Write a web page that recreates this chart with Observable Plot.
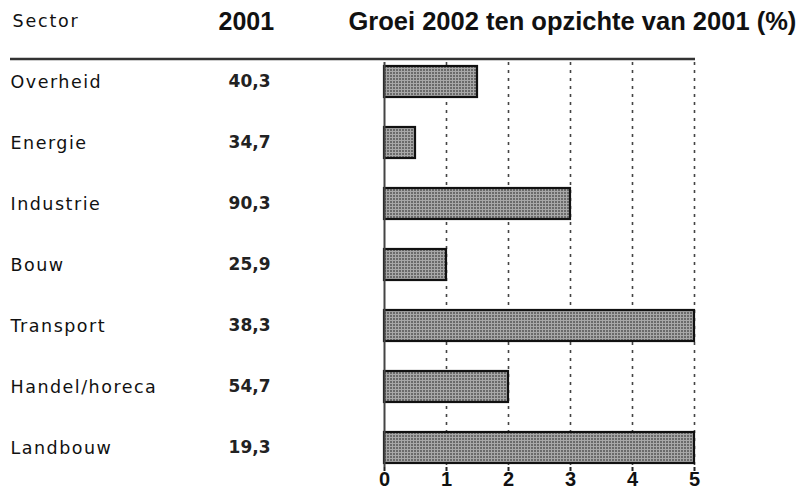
<!DOCTYPE html>
<html>
<head>
<meta charset="utf-8">
<script src="https://cdn.jsdelivr.net/npm/d3@7"></script>
<script src="https://cdn.jsdelivr.net/npm/@observablehq/plot@0.6"></script>
<style>
  html, body { margin: 0; padding: 0; background: #fff; }
  #chart svg { display: block; }
</style>
</head>
<body>
<div id="chart"></div>
<script>
const sectors = ["Overheid", "Energie", "Industrie", "Bouw", "Transport", "Handel/horeca", "Landbouw"];
const values2001 = [40.3, 34.7, 90.3, 25.9, 38.3, 54.7, 19.3];
const groei2002 = [1.5, 0.5, 3, 1, 5, 2, 5];
const xTicks = [0, 1, 2, 3, 4, 5];
const gridTicks = [1, 2, 3, 4, 5];
const headers = ["Sector", "2001", "Groei 2002 ten opzichte van 2001 (%)"];

const data = sectors.map((s, i) => ({sector: s, v2001: values2001[i], groei: groei2002[i]}));
const fmt = v => v.toFixed(1).replace(".", ",");
const labelFont = "'DejaVu Sans', Verdana, sans-serif";
const headFont = "'Liberation Sans', Arial, sans-serif";

const chart = Plot.plot({
  width: 809,
  height: 490,
  marginLeft: 10,
  marginRight: 114,
  marginTop: 62,
  marginBottom: 23,
  style: {background: "#fff", color: "#111"},
  x: {domain: [0, 5], range: [384, 694], axis: null},
  y: {domain: sectors, paddingInner: 0.49, paddingOuter: 0.05, axis: null},
  marks: [
    Plot.ruleX(gridTicks, {stroke: "#444", strokeWidth: 1.6, strokeDasharray: "3,5"}),
    Plot.ruleY([sectors[0]], {dy: -23, stroke: "#333", strokeWidth: 2.5}),
    Plot.barX(data, {x: "groei", y: "sector", fill: "url(#halftone)", stroke: "#111", strokeWidth: 2.2}),
    Plot.ruleX([0], {stroke: "#444", strokeWidth: 2}),
    Plot.axisX(xTicks, {anchor: "bottom", label: null, tickSize: 4, tickPadding: 0, tickFormat: d => String(d),
      fontSize: 20, fontWeight: "bold", fontFamily: "'Liberation Sans', Arial, sans-serif", stroke: "#222", strokeWidth: 2}),
    Plot.text(data, {y: "sector", text: "sector", frameAnchor: "left", textAnchor: "start",
      fontSize: 17.5, fontFamily: labelFont, fill: "#111"}),
    Plot.text(data, {y: "sector", text: d => fmt(d.v2001), frameAnchor: "left", dx: 260, textAnchor: "end",
      fontSize: 17, fontWeight: "bold", fontFamily: labelFont, fill: "#222"}),
    Plot.text([headers[0]], {frameAnchor: "top-left", dx: 2, dy: -41, textAnchor: "start", lineAnchor: "middle",
      fontSize: 17.5, fontFamily: labelFont, fill: "#111"}),
    Plot.text([headers[1]], {frameAnchor: "top-left", dx: 208, dy: -41, textAnchor: "start", lineAnchor: "middle",
      fontSize: 25, fontWeight: "bold", fontFamily: headFont, fill: "#111"}),
    Plot.text([headers[2]], {frameAnchor: "top-left", dx: 338, dy: -41, textAnchor: "start", lineAnchor: "middle",
      fontSize: 25.5, fontWeight: "bold", fontFamily: headFont, fill: "#111"})
  ]
});

// halftone pattern for the bars
const svg = d3.select(chart);
const defs = svg.insert("defs", ":first-child");
const pat = defs.append("pattern").attr("id", "halftone").attr("patternUnits", "userSpaceOnUse")
  .attr("width", 3).attr("height", 3);
pat.append("rect").attr("width", 3).attr("height", 3).attr("fill", "#a8a8a8");
pat.append("rect").attr("width", 2).attr("height", 2).attr("fill", "#6a6a6a");

document.getElementById("chart").appendChild(chart);

// letter spacing tweaks
svg.selectAll("text").each(function() {
  const t = this.textContent;
  const el = d3.select(this);
  if (t === headers[0]) {
    el.style("letter-spacing", "1.8px");
  } else if (sectors.includes(t)) {
    el.style("letter-spacing", "1.5px");
  }
});
</script>
</body>
</html>
